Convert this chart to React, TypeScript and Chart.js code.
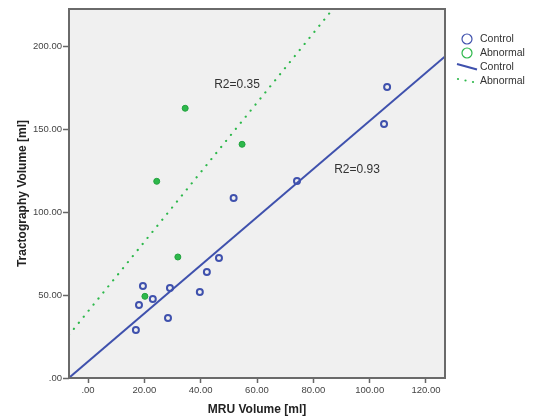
import { useEffect, useRef } from 'react';
import { Chart, registerables } from 'chart.js';

Chart.register(...registerables);

// Scatter data
const controlX = [106.2, 105.1, 74.2, 51.7, 46.5, 42.2, 39.7, 29.1, 23.0, 19.5, 18.1, 28.4, 17.0];
const controlY = [175.3, 153.0, 118.7, 108.4, 72.3, 63.9, 51.8, 54.2, 47.6, 55.4, 44.0, 36.1, 28.9];
const abnormalX = [34.5, 54.7, 24.4, 31.9, 20.2];
const abnormalY = [162.5, 140.8, 118.5, 72.9, 49.2];

// Fit line end points (clipped at the plot edges)
const controlFitX = [-6.75, 126.75];
const controlFitY = [0.1, 193.7];
const abnormalFitX = [-6.75, 90];
const abnormalFitY = [25.95, 228.7];

// Axes
const xTicks = [0, 20, 40, 60, 80, 100, 120];
const yTicks = [0, 50, 100, 150, 200];
const xRange = [-6.75, 126.75];
const yRange = [0, 222.3];

// R² annotations
const r2Labels = ['R2=0.35', 'R2=0.93'];
const r2X = [52.9, 95.5];
const r2Y = [176.5, 125.3];

const seriesLabels = ['Control', 'Abnormal', 'Control', 'Abnormal'];

const BLUE = '#3f51ad';
const GREEN = '#2db84b';
const FONT = '"Liberation Sans", Arial, sans-serif';

const toPts = (xs: number[], ys: number[]) => xs.map((x, i) => ({ x, y: ys[i] }));
const fmt = (v: number) => (v === 0 ? '.00' : v.toFixed(2));

const decorPlugin = {
  id: 'decor',
  beforeDraw(chart: any) {
    const { ctx, chartArea: a } = chart;
    ctx.save();
    ctx.fillStyle = '#ffffff';
    ctx.fillRect(0, 0, chart.width, chart.height);
    ctx.fillStyle = '#f0f0f0';
    ctx.fillRect(a.left, a.top, a.right - a.left, a.bottom - a.top);
    ctx.restore();
  },
  afterDraw(chart: any) {
    const { ctx, chartArea: a, scales } = chart;
    ctx.save();
    // frame
    ctx.strokeStyle = '#6a6a6a';
    ctx.lineWidth = 2;
    ctx.strokeRect(a.left, a.top, a.right - a.left, a.bottom - a.top);
    // R2 labels
    ctx.fillStyle = '#333333';
    ctx.font = `12px ${FONT}`;
    ctx.textAlign = 'center';
    ctx.textBaseline = 'middle';
    r2Labels.forEach((t, i) => {
      ctx.fillText(t, scales.x.getPixelForValue(r2X[i]), scales.y.getPixelForValue(r2Y[i]));
    });
    // legend
    const lx = 467;
    chart.data.datasets.forEach((ds: any, i: number) => {
      const y = 39 + i * 14;
      ctx.strokeStyle = ds.borderColor;
      if (!ds.showLine) {
        ctx.lineWidth = 1.2;
        ctx.beginPath();
        ctx.arc(lx, y, 5, 0, Math.PI * 2);
        ctx.stroke();
      } else if (ds.borderDash && ds.borderDash.length) {
        ctx.fillStyle = ds.borderColor;
        for (let k = 0; k < 3; k++) {
          ctx.beginPath();
          ctx.arc(458 + k * 7.5, y - 2 + k * 1.5, 1.1, 0, Math.PI * 2);
          ctx.fill();
        }
      } else {
        ctx.lineWidth = 2;
        ctx.beginPath();
        ctx.moveTo(457, y - 3);
        ctx.lineTo(477, y + 2.5);
        ctx.stroke();
      }
      ctx.fillStyle = '#333333';
      ctx.font = `10.5px ${FONT}`;
      ctx.textAlign = 'left';
      ctx.textBaseline = 'middle';
      ctx.fillText(ds.label, 480, y);
    });
    ctx.restore();
  },
};

export default function App() {
  const ref = useRef<HTMLCanvasElement | null>(null);

  useEffect(() => {
    document.body.style.margin = '0';
    if (!ref.current) return;
    Chart.defaults.font.family = FONT;
    const chart = new Chart(ref.current, {
      type: 'scatter',
      data: {
        datasets: [
          {
            label: seriesLabels[0],
            data: toPts(controlX, controlY),
            showLine: false,
            pointRadius: 3,
            pointBorderWidth: 2,
            borderColor: BLUE,
            backgroundColor: 'rgba(0,0,0,0)',
            pointBackgroundColor: 'rgba(0,0,0,0)',
            pointBorderColor: BLUE,
          },
          {
            label: seriesLabels[1],
            data: toPts(abnormalX, abnormalY),
            showLine: false,
            pointRadius: 3,
            pointBorderWidth: 1,
            borderColor: GREEN,
            backgroundColor: GREEN,
            pointBackgroundColor: GREEN,
            pointBorderColor: '#23a33f',
          },
          {
            label: seriesLabels[2],
            data: toPts(controlFitX, controlFitY),
            showLine: true,
            pointRadius: 0,
            borderColor: BLUE,
            borderWidth: 2,
            backgroundColor: BLUE,
          },
          {
            label: seriesLabels[3],
            data: toPts(abnormalFitX, abnormalFitY),
            showLine: true,
            pointRadius: 0,
            borderColor: GREEN,
            borderWidth: 2.2,
            borderCapStyle: 'round',
            borderDash: [0.1, 7.7],
            backgroundColor: GREEN,
          },
        ],
      },
      options: {
        animation: false,
        responsive: false,
        devicePixelRatio: 1,
        layout: { padding: { left: 0, top: 9, right: 94, bottom: 0 } },
        plugins: { legend: { display: false }, tooltip: { enabled: false } },
        scales: {
          x: {
            type: 'linear',
            min: xRange[0],
            max: xRange[1],
            afterFit: (s: any) => { s.height = 40; },
            afterBuildTicks: (s: any) => { s.ticks = xTicks.map((v) => ({ value: v })); },
            grid: { drawOnChartArea: false, drawTicks: true, tickLength: 5, color: '#666666', tickWidth: 1.5 },
            border: { display: false },
            ticks: { callback: (v: any) => fmt(Number(v)), color: '#444444', font: { size: 9.5 }, padding: 2, maxRotation: 0 },
            title: { display: true, text: 'MRU Volume [ml]', color: '#222222', font: { size: 12, weight: 'bold' }, padding: { top: 2, bottom: 1 } },
          },
          y: {
            type: 'linear',
            min: yRange[0],
            max: yRange[1],
            afterFit: (s: any) => { s.width = 69; },
            afterBuildTicks: (s: any) => { s.ticks = yTicks.map((v) => ({ value: v })); },
            grid: { drawOnChartArea: false, drawTicks: true, tickLength: 6, color: '#666666', tickWidth: 1.5 },
            border: { display: false },
            ticks: { callback: (v: any) => fmt(Number(v)), color: '#444444', font: { size: 9.5 }, padding: 1 },
            title: { display: true, text: 'Tractography Volume [ml]', color: '#222222', font: { size: 12, weight: 'bold' }, padding: { top: 15, bottom: 0 } },
          },
        },
      },
      plugins: [decorPlugin],
    } as any);
    return () => chart.destroy();
  }, []);

  return <canvas ref={ref} width={539} height={418} style={{ display: 'block' }} />;
}
